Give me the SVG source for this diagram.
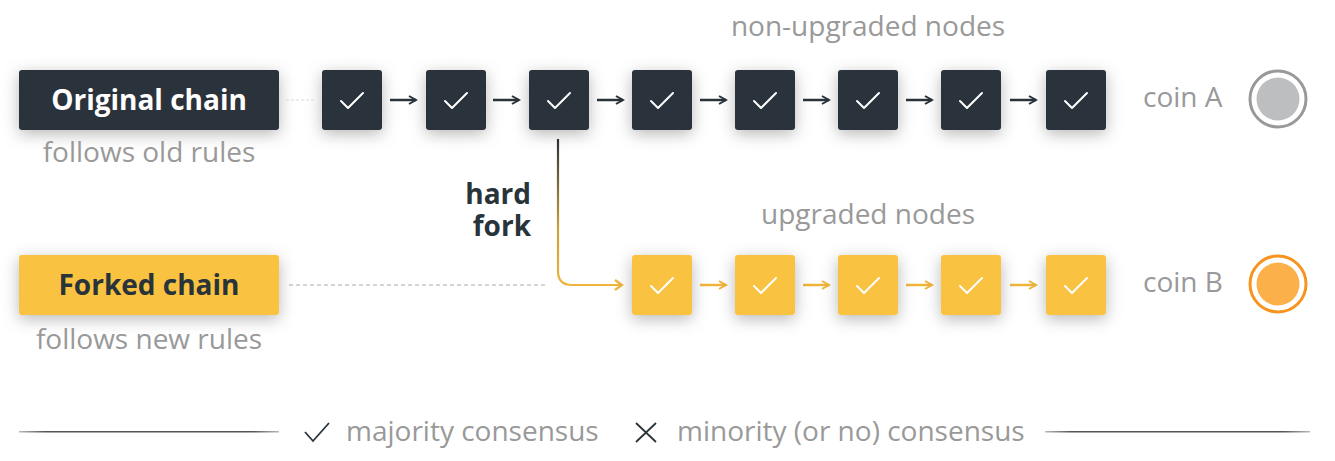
<svg xmlns="http://www.w3.org/2000/svg" width="1335" height="461" viewBox="0 0 1335 461">
<defs>
<style>
.dark{fill:#29333a}
.yel{fill:#f9c23f}
.chk{fill:none;stroke:#fff;stroke-width:2;stroke-linecap:round;stroke-linejoin:round}
.lbl{font-family:"Open Sans","Noto Sans",sans-serif;font-size:28px;fill:#999}
.bold{font-family:"Open Sans","Noto Sans",sans-serif;font-size:28px;font-weight:bold}
.arrD{stroke:#29333a;stroke-width:2.5;fill:none}
.arrY{stroke:#f0b43a;stroke-width:2.5;fill:none}
</style>
<filter id="sh" x="-50%" y="-50%" width="200%" height="200%">
<feDropShadow dx="0" dy="4" stdDeviation="8" flood-color="#000" flood-opacity="0.28"/>
</filter>
<marker id="mD" viewBox="0 0 10 10" refX="8" refY="5" markerWidth="4" markerHeight="4" orient="auto" markerUnits="strokeWidth">
<path d="M1,1 L8,5 L1,9" fill="none" stroke="#29333a" stroke-width="2"/>
</marker>
<marker id="mY" viewBox="0 0 10 10" refX="8" refY="5" markerWidth="4" markerHeight="4" orient="auto" markerUnits="strokeWidth">
<path d="M1,1 L8,5 L1,9" fill="none" stroke="#f0b43a" stroke-width="2"/>
</marker>
<linearGradient id="fk" x1="0" y1="139" x2="0" y2="285" gradientUnits="userSpaceOnUse">
<stop offset="0" stop-color="#29333a"/>
<stop offset="0.6" stop-color="#c9a03a"/>
<stop offset="1" stop-color="#f0b43a"/>
</linearGradient>
<linearGradient id="lg" x1="0" y1="0" x2="1" y2="0">
<stop offset="0" stop-color="#bbb"/>
<stop offset="0.1" stop-color="#555"/>
<stop offset="0.9" stop-color="#555"/>
<stop offset="1" stop-color="#bbb"/>
</linearGradient>
<path id="ck" d="M-11,1 L-4,8 L11,-7"/>
</defs>
<rect width="1335" height="461" fill="#fff"/>

<g id="connectors">
<line x1="286" y1="100" x2="314" y2="100" stroke="#ddd" stroke-width="1" stroke-dasharray="3,2"/>
<line x1="289" y1="285" x2="545" y2="285" stroke="#aaa" stroke-width="1" stroke-dasharray="4,3"/>
<line class="arrD" x1="390" y1="100" x2="416" y2="100" marker-end="url(#mD)"/>
<line class="arrD" x1="493" y1="100" x2="519" y2="100" marker-end="url(#mD)"/>
<line class="arrD" x1="597" y1="100" x2="623" y2="100" marker-end="url(#mD)"/>
<line class="arrD" x1="700" y1="100" x2="726" y2="100" marker-end="url(#mD)"/>
<line class="arrD" x1="803" y1="100" x2="829" y2="100" marker-end="url(#mD)"/>
<line class="arrD" x1="906" y1="100" x2="932" y2="100" marker-end="url(#mD)"/>
<line class="arrD" x1="1010" y1="100" x2="1036" y2="100" marker-end="url(#mD)"/>
<path d="M558,139 L558,271 Q558,285 572,285 L622,285" fill="none" stroke="url(#fk)" stroke-width="2.2"/>
<path d="M615,280 L622,285 L615,290" fill="none" stroke="#f0b43a" stroke-width="2.2"/>
<line class="arrY" x1="700" y1="285" x2="726" y2="285" marker-end="url(#mY)"/>
<line class="arrY" x1="803" y1="285" x2="829" y2="285" marker-end="url(#mY)"/>
<line class="arrY" x1="906" y1="285" x2="932" y2="285" marker-end="url(#mY)"/>
<line class="arrY" x1="1010" y1="285" x2="1036" y2="285" marker-end="url(#mY)"/>
</g>

<g id="original-chain">
<rect class="dark" x="19" y="70" width="260" height="60" rx="3" filter="url(#sh)"/>
<text class="bold" x="149" y="110" text-anchor="middle" fill="#fff">Original chain</text>
<text class="lbl" x="149" y="162" text-anchor="middle">follows old rules</text>
</g>
<g id="forked-chain">
<rect class="yel" x="19" y="255" width="260" height="60" rx="3" filter="url(#sh)"/>
<text class="bold" x="149" y="295" text-anchor="middle" fill="#29333a">Forked chain</text>
<text class="lbl" x="149" y="349" text-anchor="middle">follows new rules</text>
</g>

<g id="top-blocks">
<g id="t1"><rect class="dark" x="322" y="70" width="60" height="60" rx="3" filter="url(#sh)"/><use href="#ck" class="chk" x="352" y="100"/></g>
<g id="t2"><rect class="dark" x="426" y="70" width="60" height="60" rx="3" filter="url(#sh)"/><use href="#ck" class="chk" x="456" y="100"/></g>
<g id="t3"><rect class="dark" x="529" y="70" width="60" height="60" rx="3" filter="url(#sh)"/><use href="#ck" class="chk" x="559" y="100"/></g>
<g id="t4"><rect class="dark" x="632" y="70" width="60" height="60" rx="3" filter="url(#sh)"/><use href="#ck" class="chk" x="662" y="100"/></g>
<g id="t5"><rect class="dark" x="735" y="70" width="60" height="60" rx="3" filter="url(#sh)"/><use href="#ck" class="chk" x="765" y="100"/></g>
<g id="t6"><rect class="dark" x="838" y="70" width="60" height="60" rx="3" filter="url(#sh)"/><use href="#ck" class="chk" x="868" y="100"/></g>
<g id="t7"><rect class="dark" x="941" y="70" width="60" height="60" rx="3" filter="url(#sh)"/><use href="#ck" class="chk" x="971" y="100"/></g>
<g id="t8"><rect class="dark" x="1046" y="70" width="60" height="60" rx="3" filter="url(#sh)"/><use href="#ck" class="chk" x="1076" y="100"/></g>
</g>

<g id="bottom-blocks">
<g id="b1"><rect class="yel" x="632" y="255" width="60" height="60" rx="3" filter="url(#sh)"/><use href="#ck" class="chk" x="662" y="285"/></g>
<g id="b2"><rect class="yel" x="735" y="255" width="60" height="60" rx="3" filter="url(#sh)"/><use href="#ck" class="chk" x="765" y="285"/></g>
<g id="b3"><rect class="yel" x="838" y="255" width="60" height="60" rx="3" filter="url(#sh)"/><use href="#ck" class="chk" x="868" y="285"/></g>
<g id="b4"><rect class="yel" x="941" y="255" width="60" height="60" rx="3" filter="url(#sh)"/><use href="#ck" class="chk" x="971" y="285"/></g>
<g id="b5"><rect class="yel" x="1046" y="255" width="60" height="60" rx="3" filter="url(#sh)"/><use href="#ck" class="chk" x="1076" y="285"/></g>
</g>

<g id="labels">
<text class="lbl" x="868" y="36" text-anchor="middle">non-upgraded nodes</text>
<text class="lbl" x="868" y="224" text-anchor="middle">upgraded nodes</text>
<text class="bold" text-anchor="end" fill="#29333a"><tspan x="531" y="204">hard</tspan><tspan x="531" y="236">fork</tspan></text>
</g>

<g id="coin-a">
<text class="lbl" x="1143" y="107">coin A</text>
<circle cx="1278" cy="99" r="28" fill="#fff" stroke="#999" stroke-width="3"/>
<circle cx="1278" cy="99" r="21.5" fill="#bcbec0"/>
</g>
<g id="coin-b">
<text class="lbl" x="1143" y="292">coin B</text>
<circle cx="1278" cy="284" r="28" fill="#fff" stroke="#f7941d" stroke-width="3"/>
<circle cx="1278" cy="284" r="21.5" fill="#fbb04a"/>
</g>

<g id="legend">
<rect x="19" y="431" width="260" height="1.5" fill="url(#lg)"/>
<rect x="1045" y="431" width="265" height="1.5" fill="url(#lg)"/>
<path d="M305,432 L313,441 L329,423" fill="none" stroke="#29333a" stroke-width="1.8"/>
<text class="lbl" x="346" y="441">majority consensus</text>
<path d="M636,423 L656,442 M656,423 L636,442" fill="none" stroke="#29333a" stroke-width="1.8"/>
<text class="lbl" x="677" y="441">minority (or no) consensus</text>
</g>
</svg>
